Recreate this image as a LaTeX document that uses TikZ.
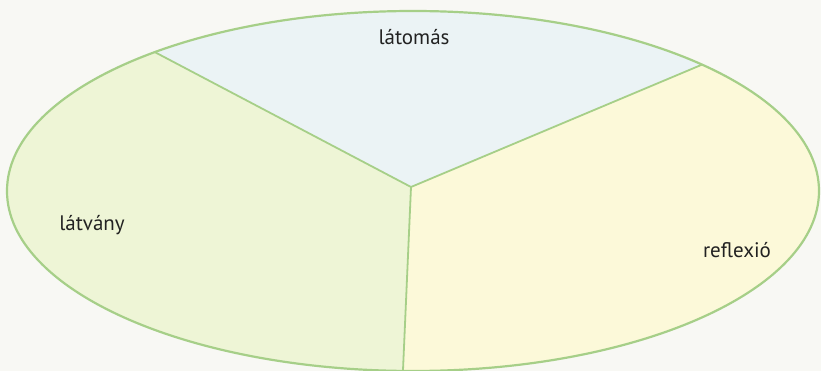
\documentclass[tikz,border=0pt]{standalone}
\usepackage{fontspec}
\setmainfont{PT Sans}
\definecolor{bgc}{HTML}{F8F8F4}
\definecolor{topc}{HTML}{EBF3F5}
\definecolor{leftc}{HTML}{EEF5D6}
\definecolor{rightc}{HTML}{FCF9D9}
\definecolor{linec}{HTML}{A6CF88}
\definecolor{txtc}{HTML}{222222}
\tikzset{
  divider/.style={draw=linec, line width=1.8pt},
  rim/.style={draw=linec, line width=2.2pt},
  lbl/.style={anchor=base, text=txtc, inner sep=0pt, font=\fontsize{21}{25}\selectfont}
}
\begin{document}
\begin{tikzpicture}[x=1pt,y=-1pt]
\fill[bgc] (0,0) rectangle (821,371);
\useasboundingbox (0,0) rectangle (821,371);
\coordinate (c) at (411,187);
\coordinate (tl) at (-117,-91);
\coordinate (tr) at (977,-51);
\coordinate (bt) at (395,553);
\begin{scope}
  \clip (413,191) ellipse [x radius=406pt, y radius=180pt];
  \fill[rightc] (-10,-10) rectangle (830,380);
  \fill[leftc] (c) -- (tl) -- (-200,600) -- (bt) -- cycle;
  \fill[topc] (c) -- (tl) -- (-117,-200) -- (977,-200) -- (tr) -- cycle;
  \draw[divider] (tl) -- (c) -- (tr);
  \draw[divider] (c) -- (bt);
\end{scope}
\draw[rim] (413,191) ellipse [x radius=406pt, y radius=180pt];
\node[lbl] (vision) at (414,45) {látomás};
\node[lbl] (sight) at (92,230) {látvány};
\node[lbl] (refl) at (737,257) {reflexió};
\end{tikzpicture}
\end{document}
